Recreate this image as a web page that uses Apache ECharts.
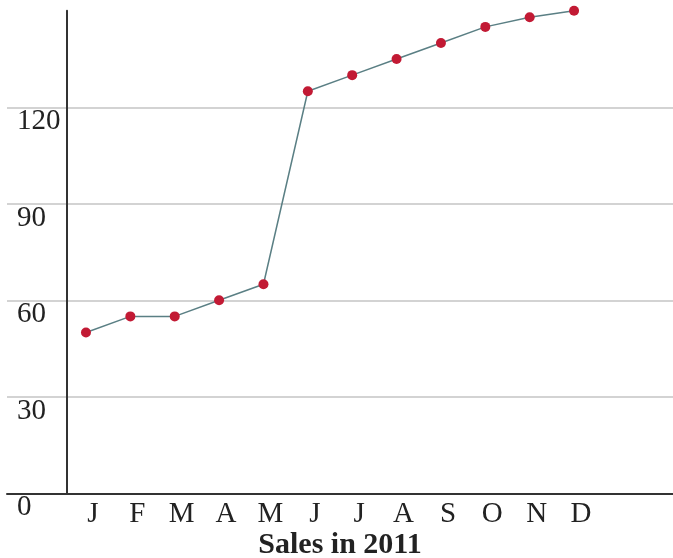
<!DOCTYPE html>
<html>
<head>
<meta charset="utf-8">
<script src="https://cdn.jsdelivr.net/npm/echarts@6/dist/echarts.min.js"></script>
<style>html,body{margin:0;padding:0;background:#fff}#c{width:673px;height:558px}</style>
</head>
<body>
<div id="c"></div>
<script>
var months = ['J','F','M','A','M','J','J','A','S','O','N','D'];
var monthIndex = [1,2,3,4,5,6,7,8,9,10,11,12];
var sales = [50,55,55,60,65,125,130,135,140,145,148,150];
var yTicks = [0,30,60,90,120,150];
var xTitle = 'Sales in 2011';

var serif = '"Liberation Serif","Times New Roman",serif';
var chart = echarts.init(document.getElementById('c'));
chart.setOption({
  animation: false,
  grid: {left: 7, right: 0, top: 10.8, bottom: 64.7, containLabel: false, outerBoundsMode: 'none'},
  xAxis: {
    type: 'value',
    min: -0.78, max: 14.23,
    splitLine: {show: false},
    axisTick: {show: false},
    axisLine: {onZero: false, lineStyle: {color: '#333', width: 2}},
    axisLabel: {
      customValues: monthIndex,
      formatter: function (v) { return months[Math.round(v) - 1] || ''; },
      fontFamily: serif, fontSize: 29, color: '#222',
      margin: 7, padding: [0, 0, 0, 14]
    },
    name: xTitle,
    nameLocation: 'middle',
    nameMoveOverlap: false,
    nameGap: 37,
    nameTextStyle: {fontFamily: serif, fontSize: 30, fontWeight: 'bold', color: '#222'}
  },
  yAxis: {
    type: 'value',
    min: yTicks[0], max: yTicks[yTicks.length - 1], interval: 30,
    offset: -60,
    axisLine: {show: true, onZero: false, lineStyle: {color: '#333', width: 2}},
    axisTick: {show: false},
    splitLine: {show: true, lineStyle: {color: ['#c4c4c4','#c4c4c4','#c4c4c4','#c4c4c4','#c4c4c4','rgba(0,0,0,0)'], width: 1.5}},
    axisLabel: {
      showMaxLabel: false,
      align: 'left', margin: 50,
      verticalAlign: 'top',
      fontFamily: serif, fontSize: 29, color: '#222'
    }
  },
  series: [{
    type: 'line',
    data: monthIndex.map(function (m, i) { return [m, sales[i]]; }),
    symbol: 'circle',
    symbolSize: 10,
    clip: false,
    lineStyle: {color: '#5a7f84', width: 1.5},
    itemStyle: {color: '#c21a34'}
  }]
});
</script>
</body>
</html>
